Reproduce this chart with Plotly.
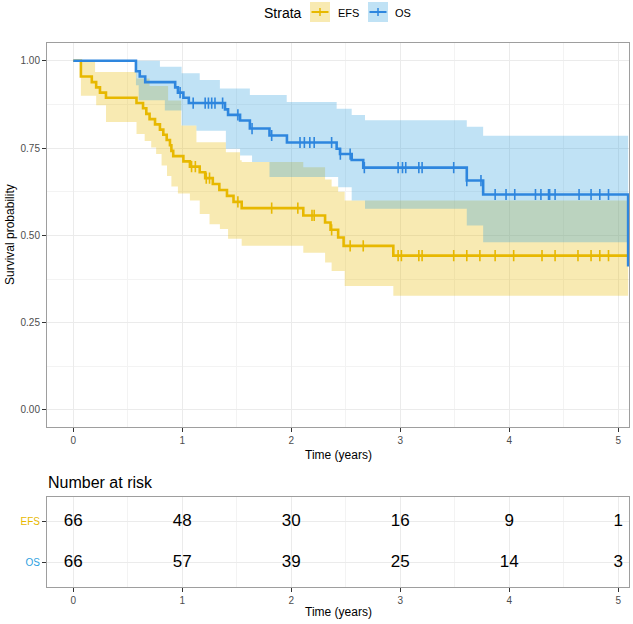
import plotly.graph_objects as go

W, H = 633, 624

# ---------------- data ----------------
efs_t = [0, 0.07, 0.17, 0.21, 0.245, 0.30, 0.58, 0.64, 0.67, 0.70, 0.75, 0.795, 0.826, 0.857,
         0.887, 0.90, 0.917, 1.01, 1.07, 1.16, 1.21, 1.28, 1.34, 1.41, 1.47, 1.545, 2.11, 2.31,
         2.36, 2.43, 2.48, 2.936, 5.09]
efs_s = [1.0, 0.955, 0.939, 0.924, 0.909, 0.894, 0.879, 0.864, 0.848, 0.833, 0.818, 0.803, 0.788,
         0.773, 0.758, 0.742, 0.727, 0.712, 0.697, 0.681, 0.664, 0.647, 0.630, 0.613, 0.596, 0.578,
         0.557, 0.537, 0.516, 0.494, 0.470, 0.442, 0.442]
efs_cens = [1.085, 1.12, 1.22, 1.25, 1.51, 1.82, 2.06, 2.19, 2.21, 2.37, 2.54, 2.66, 2.98, 3.01,
            3.17, 3.20, 3.49, 3.61, 3.73, 3.87, 4.04, 4.30, 4.42, 4.63, 4.75, 4.83, 4.91]

os_t = [0, 0.575, 0.61, 0.66, 0.935, 0.96, 1.01, 1.06, 1.392, 1.42, 1.53, 1.62, 1.80, 1.96,
        2.416, 2.447, 2.554, 2.66, 3.61, 3.76, 5.09]
os_s = [1.0, 0.970, 0.955, 0.939, 0.924, 0.909, 0.894, 0.879, 0.861, 0.845, 0.829, 0.806, 0.786,
        0.766, 0.748, 0.733, 0.716, 0.694, 0.657, 0.617, 0.411]
os_cens = [0.98, 1.10, 1.21, 1.24, 1.27, 1.30, 1.37, 1.51, 1.64, 1.82, 2.08, 2.12, 2.17, 2.21,
           2.37, 2.45, 2.54, 2.67, 2.98, 3.02, 3.05, 3.17, 3.20, 3.49, 3.61, 3.74, 3.87, 3.97,
           4.05, 4.24, 4.29, 4.36, 4.37, 4.42, 4.64, 4.75, 4.83, 4.91]

efs_band_t = [0.07, 0.20, 0.21, 0.30, 0.58, 0.655, 0.70, 0.715, 0.76, 0.81, 0.86, 0.87, 0.90,
              0.96, 0.99, 1.07, 1.13, 1.16, 1.25, 1.345, 1.40, 1.42, 1.53, 1.545, 2.11, 2.31,
              2.37, 2.43, 2.49, 2.936]
efs_band_lo = [0.900, 0.900, 0.873, 0.825, 0.790, 0.770, 0.770, 0.752, 0.733, 0.700, 0.670, 0.670,
               0.640, 0.620, 0.620, 0.600, 0.600, 0.561, 0.532, 0.518, 0.518, 0.490, 0.490, 0.470,
               0.450, 0.422, 0.398, 0.398, 0.355, 0.327]
efs_band_hi = [1.000, 0.968, 0.968, 0.968, 0.949, 0.949, 0.928, 0.928, 0.928, 0.928, 0.928, 0.886,
               0.886, 0.886, 0.815, 0.815, 0.767, 0.767, 0.767, 0.767, 0.738, 0.738, 0.715, 0.710,
               0.695, 0.660, 0.640, 0.625, 0.600, 0.600]

os_band_t = [0.575, 0.60, 0.795, 0.84, 0.994, 1.13, 1.16, 1.345, 1.40, 1.53, 1.62, 1.64, 1.80,
             1.958, 2.416, 2.43, 2.554, 2.676, 3.61, 3.76]
os_band_lo = [0.930, 0.887, 0.887, 0.858, 0.815, 0.800, 0.800, 0.800, 0.748, 0.729, 0.729, 0.710,
              0.667, 0.667, 0.667, 0.638, 0.600, 0.576, 0.528, 0.480]
os_band_hi = [1.000, 1.000, 0.983, 0.983, 0.964, 0.964, 0.945, 0.921, 0.921, 0.921, 0.902, 0.902,
              0.902, 0.882, 0.863, 0.863, 0.845, 0.830, 0.811, 0.785]

risk_times = [0, 1, 2, 3, 4, 5]
efs_risk = [66, 48, 30, 16, 9, 1]
os_risk = [66, 57, 39, 25, 14, 3]

strata = ["EFS", "OS"]
x_ticks = [0, 1, 2, 3, 4, 5]
y_ticks = [0.0, 0.25, 0.5, 0.75, 1.0]
t_end = 5.09

# ---------------- styles ----------------
EFS_COL = "#E7B800"
OS_COL = "#2E9FDF"
EFS_LINE = "#E7B800"
OS_LINE = "#2E86DE"
EFS_FILL = "rgba(231,184,0,0.3)"
OS_FILL = "rgba(46,159,223,0.3)"
FONT = "Liberation Sans, Arial, sans-serif"
GRID = "#EBEBEB"
BORDER = "#9E9E9E"


def px(xp):
    return xp / W


def py(yp):
    return 1 - yp / H


def step_poly(t, lo, hi, tend):
    xu, yu, xl, yl = [], [], [], []
    for i in range(len(t)):
        t0 = t[i]
        t1 = t[i + 1] if i + 1 < len(t) else tend
        xu += [t0, t1]
        yu += [hi[i], hi[i]]
        xl += [t0, t1]
        yl += [lo[i], lo[i]]
    return xu + xl[::-1], yu + yl[::-1]


def surv_at(ts, ss, tc):
    v = ss[0]
    for a, b in zip(ts, ss):
        if a <= tc:
            v = b
    return v


fig = go.Figure()

# ribbons
for bt, blo, bhi, fc in [(efs_band_t, efs_band_lo, efs_band_hi, EFS_FILL),
                         (os_band_t, os_band_lo, os_band_hi, OS_FILL)]:
    xs, ys = step_poly(bt, blo, bhi, t_end)
    fig.add_trace(go.Scatter(x=xs, y=ys, fill="toself", fillcolor=fc, mode="lines",
                             line=dict(width=0), hoverinfo="skip", showlegend=False,
                             xaxis="x", yaxis="y"))

# KM curves + censor marks
for ts, ss, cens, lc in [(efs_t, efs_s, efs_cens, EFS_LINE), (os_t, os_s, os_cens, OS_LINE)]:
    fig.add_trace(go.Scatter(x=ts, y=ss, mode="lines", line=dict(color=lc, width=2.6, shape="hv"),
                             showlegend=False, xaxis="x", yaxis="y"))
    fig.add_trace(go.Scatter(x=cens, y=[surv_at(ts, ss, c) for c in cens], mode="markers",
                             marker=dict(symbol="line-ns", size=8, line=dict(color=lc, width=1.6)),
                             showlegend=False, xaxis="x", yaxis="y"))

# risk table numbers
for vals, yv in [(efs_risk, 2), (os_risk, 1)]:
    fig.add_trace(go.Scatter(x=risk_times, y=[yv] * len(risk_times), mode="text",
                             text=[str(v) for v in vals],
                             textfont=dict(size=17, color="black", family=FONT),
                             showlegend=False, xaxis="x2", yaxis="y2"))

xdom = [px(47), px(629)]
xr = [-0.241, 5.098]
common_x = dict(range=xr, domain=xdom, tickvals=x_ticks, ticks="outside", ticklen=4,
                tickcolor="#333333", showline=True, mirror=True, linecolor=BORDER, linewidth=1,
                showgrid=True, gridcolor=GRID, gridwidth=1, zeroline=False,
                minor=dict(dtick=0.5, tick0=0, showgrid=True, gridcolor="#F3F3F3", gridwidth=1,
                           ticks=""))

fig.update_layout(
    width=W, height=H,
    margin=dict(l=0, r=0, t=0, b=0),
    paper_bgcolor="white", plot_bgcolor="white",
    font=dict(family=FONT),
    xaxis=dict(**common_x, anchor="y", tickfont=dict(size=10, color="#4D4D4D")),
    yaxis=dict(range=[-0.048, 1.051], domain=[py(426.7), py(43)], tickvals=y_ticks,
               tickformat=".2f", ticks="outside", ticklen=4, tickcolor="#333333",
               tickfont=dict(size=10, color="#4D4D4D"), showline=True, mirror=True,
               linecolor=BORDER, linewidth=1, showgrid=True, gridcolor=GRID, zeroline=False,
               minor=dict(dtick=0.125, tick0=0, showgrid=True, gridcolor="#F3F3F3", ticks=""),
               anchor="x"),
    xaxis2=dict(**common_x, anchor="y2", tickfont=dict(size=10, color="#4D4D4D")),
    yaxis2=dict(range=[0.4, 2.6], domain=[py(587.3), py(497.3)], tickvals=[2, 1],
                ticktext=["<span style='color:%s'>%s</span>" % (EFS_COL, strata[0]),
                          "<span style='color:%s'>%s</span>" % (OS_COL, strata[1])],
                ticks="outside", ticklen=4, tickcolor="#333333", tickfont=dict(size=10),
                showline=True, mirror=True, linecolor=BORDER, linewidth=1, showgrid=True,
                gridcolor=GRID, zeroline=False, anchor="x2"),
)


def note(text, x, y, size, xanchor="center", angle=0):
    return dict(text=text, x=px(x), y=py(y), xref="paper", yref="paper", xanchor=xanchor,
                yanchor="middle", showarrow=False, textangle=angle,
                font=dict(size=size, color="black"))


ann = [
    note("Time (years)", 338, 455, 12),
    note("Survival probability", 10, 235, 12, angle=-90),
    note("Number at risk", 46, 482, 16, xanchor="left"),
    note("Time (years)", 338, 612, 12),
    note("Strata", 283, 13, 14),
    note(strata[0], 348, 13, 11),
    note(strata[1], 403, 13, 11),
]
fig.update_layout(annotations=ann)

shapes = []
for x0, fc, lc in [(310, EFS_FILL, EFS_LINE), (368, OS_FILL, OS_LINE)]:
    shapes.append(dict(type="rect", xref="paper", yref="paper", x0=px(x0), x1=px(x0 + 20),
                       y0=py(22), y1=py(2), fillcolor=fc, line=dict(width=0)))
    shapes.append(dict(type="line", xref="paper", yref="paper", x0=px(x0 + 1.5), x1=px(x0 + 18.5),
                       y0=py(12), y1=py(12), line=dict(color=lc, width=2)))
    shapes.append(dict(type="line", xref="paper", yref="paper", x0=px(x0 + 10), x1=px(x0 + 10),
                       y0=py(8), y1=py(16), line=dict(color=lc, width=1.5)))
fig.update_layout(shapes=shapes)

fig.write_html("out.html")
